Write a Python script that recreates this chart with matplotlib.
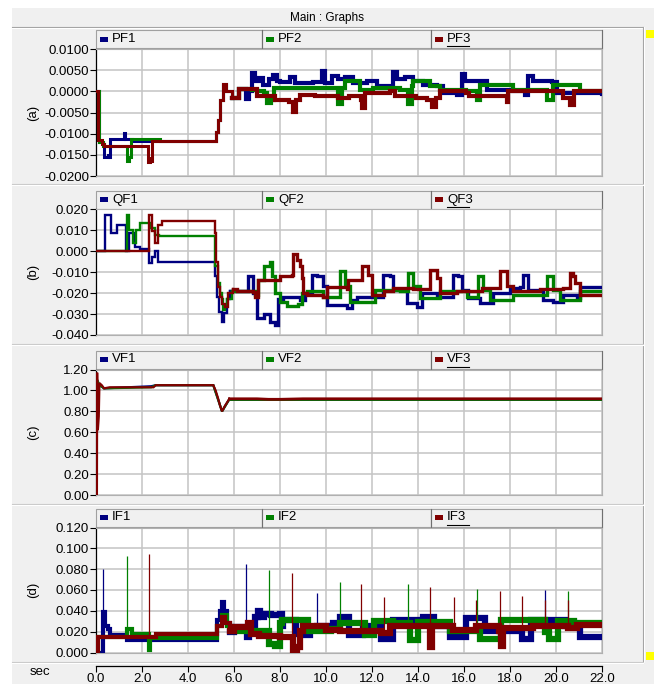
import matplotlib
matplotlib.use('Agg')
import matplotlib.pyplot as plt
import numpy as np
from matplotlib.patches import Rectangle

plt.rcParams['font.family'] = ['Liberation Sans', 'DejaVu Sans']

# time axis (sec)
t_ticks = np.arange(0, 22.1, 2.0)

# ---- panel (a) : PF1 / PF2 / PF3 ----
pf1 = [(0, 0), (0.08, 0), (0.12, -0.012), (0.3, -0.0125), (0.35, -0.0155), (0.5, -0.015),
       (0.55, -0.0155), (0.62, -0.0113), (1.15, -0.0112), (1.2, -0.0098), (1.25, -0.0112),
       (1.5, -0.0112), (1.55, -0.0118), (5.1, -0.0118), (5.2, -0.0095), (5.3, -0.0067),
       (5.4, -0.002), (5.5, 0.0017), (5.65, 0.0), (5.9, -0.0015), (6.2, 0.0005), (6.5, -0.0018),
       (6.65, 0.0), (6.8, 0.0043), (6.9, 0.0025), (7.1, 0.0032), (7.28, 0.0015), (7.5, 0.0028),
       (7.71, 0.0038), (7.85, 0.0024),
       (8.0, 0.0022), (8.43, 0.0033), (8.65, 0.002), (9.16, 0.002), (9.45, 0.0022), (9.81, 0.0048),
       (9.96, 0.002), (10.25, 0.0037), (10.54, 0.0029), (10.83, 0.0033), (11.19, 0.002),
       (11.77, 0.0025), (12.2, 0.0012), (12.78, 0.0012), (12.9, 0.0045), (13.07, 0.0029),
       (13.43, 0.0033), (13.8, 0.0025), (14.23, 0.0016), (14.81, 0.0012), (15.1, -0.0004),
       (15.68, -0.0008), (15.9, 0.0041), (16.04, 0.0025), (16.7, 0.0025), (16.99, 0.0004),
       (18.14, 0.0), (18.65, -0.0008), (18.8, 0.0037), (19.01, 0.0025), (19.81, 0.0022),
       (20.03, -0.0004), (22.0, -0.0006)]
pf2 = [(0, 0), (0.08, 0), (0.12, -0.012), (0.3, -0.013), (1.3, -0.013), (1.35, -0.0165),
       (1.45, -0.0155), (1.5, -0.0113), (2.7, -0.0113), (2.8, -0.0118), (5.1, -0.0118),
       (5.2, -0.0095), (5.3, -0.0067), (5.4, -0.002), (5.5, 0.0015), (5.65, 0.0), (5.9, -0.0015),
       (6.2, 0.0005), (6.8, 0.0002),
       (7.0, 0.0), (7.3, -0.0005), (7.45, -0.0028), (7.6, -0.002), (7.75, 0.0008), (8.0, 0.0008),
       (8.87, 0.0008), (9.74, 0.0008), (10.46, 0.0008), (10.54, -0.0029), (10.68, 0.0008),
       (10.83, 0.0025), (11.26, 0.0025), (11.48, 0.0004), (12.06, 0.0008), (12.78, 0.0008),
       (13.2, 0.0004), (13.58, -0.0029), (13.72, 0.0012), (13.8, 0.0025), (14.23, 0.0025),
       (14.52, 0.0012), (14.96, 0.0004), (16.1, 0.0), (16.55, -0.002), (16.7, 0.0016),
       (17.86, 0.0016), (18.14, 0.0004), (19.6, -0.002), (19.88, 0.0016), (20.9, 0.0016),
       (21.04, 0.0), (22.0, 0.0)]
pf3 = [(0, 0), (0.05, 0), (0.1, -0.0115), (0.25, -0.0125), (0.35, -0.013), (2.2, -0.013),
       (2.25, -0.0168), (2.35, -0.0158), (2.4, -0.0165), (2.45, -0.0117), (5.1, -0.0117),
       (5.2, -0.0095), (5.3, -0.0067), (5.4, -0.002), (5.5, 0.0017), (5.65, 0.0), (5.9, -0.0015),
       (6.2, 0.0005), (6.8, 0.0005),
       (7.0, -0.001), (7.5, -0.0012), (7.8, -0.002), (8.1, -0.002), (8.4, -0.0025), (8.58, -0.0048),
       (8.7, -0.002), (8.87, -0.0008), (9.5, -0.001), (10.0, -0.0012), (10.5, -0.0015),
       (11.0, -0.0012), (11.5, -0.002), (11.55, -0.004), (11.7, -0.0003), (12.8, 0.0),
       (13.0, -0.001), (13.9, -0.0015), (14.4, -0.002), (14.6, -0.0037), (14.8, -0.0015),
       (14.96, 0.0), (16.1, -0.0003), (16.2, -0.0012), (17.8, -0.001), (17.86, -0.0025),
       (17.9, 0.0), (20.0, 0.0), (20.3, -0.0015), (20.6, -0.0032), (20.8, 0.0), (22.0, 0.0)]

# ---- panel (b) : QF1 / QF2 / QF3 ----
qf1 = [(0, 0), (0.35, 0), (0.4, 0.0175), (0.64, 0.0087), (0.9, 0.0127), (1.28, 0.0125),
       (1.32, 0.0), (1.42, 0.009), (1.7, 0.0023), (1.9, 0.001), (2.25, 0.001), (2.3, -0.0057),
       (2.45, -0.0025), (2.55, 0.0), (2.7, -0.005), (5.1, -0.005), (5.18, -0.012), (5.25, -0.0216),
       (5.35, -0.029), (5.46, -0.034), (5.55, -0.0296), (5.68, -0.023), (5.83, -0.019),
       (6.55, -0.0192), (6.62, -0.012),
       (6.84, -0.02), (7.0, -0.032), (7.3, -0.030), (7.56, -0.034), (7.78, -0.035), (7.93, -0.023),
       (8.15, -0.022), (8.87, -0.0232), (9.09, -0.020), (9.38, -0.0112), (9.59, -0.0117),
       (9.88, -0.0168), (10.03, -0.0256), (10.9, -0.0272), (11.12, -0.0232), (11.33, -0.0216),
       (12.35, -0.0216), (12.49, -0.0112), (12.78, -0.0117), (12.93, -0.0184), (13.5, -0.0248),
       (13.94, -0.0264), (14.16, -0.020), (14.81, -0.0216), (15.46, -0.0216), (15.54, -0.0112),
       (15.75, -0.0117), (15.9, -0.0184), (16.19, -0.0224), (16.7, -0.0248), (17.28, -0.020),
       (18.0, -0.0176), (18.43, -0.0171), (18.58, -0.0112), (18.8, -0.0184), (19.45, -0.0232),
       (19.88, -0.024), (20.32, -0.0208), (20.9, -0.0224), (21.04, -0.0171), (22.0, -0.0171)]
qf2 = [(0, 0), (1.3, 0), (1.36, 0.0175), (1.45, 0.010), (1.59, 0.004), (1.75, 0.010),
       (1.9, 0.0135), (2.27, 0.0135), (2.4, 0.011), (2.56, 0.008), (2.75, 0.0072), (5.1, 0.0072),
       (5.17, -0.007), (5.3, -0.015), (5.4, -0.020), (5.46, -0.023), (5.5, -0.028), (5.6, -0.026),
       (5.68, -0.023), (5.9, -0.019),
       (6.6, -0.0192), (6.9, -0.021), (7.05, -0.0136), (7.3, -0.007), (7.55, -0.005),
       (7.65, -0.012), (7.8, -0.020), (8.0, -0.024), (8.3, -0.026), (8.8, -0.025), (8.95, -0.020),
       (9.16, -0.0192), (9.74, -0.0192), (9.88, -0.0216), (10.46, -0.0216), (10.6, -0.0096),
       (10.83, -0.0168), (11.04, -0.024), (11.91, -0.024), (12.13, -0.0184), (13.22, -0.0192),
       (13.58, -0.0104), (13.8, -0.0168), (14.09, -0.0224), (14.81, -0.0224), (14.96, -0.0192),
       (15.83, -0.0192), (16.12, -0.0216), (16.41, -0.0216), (16.62, -0.012), (16.84, -0.0184),
       (17.13, -0.0232), (18.0, -0.0232), (18.14, -0.0208), (19.45, -0.0208), (19.59, -0.012),
       (19.88, -0.0184), (20.17, -0.0232), (20.9, -0.0232), (21.04, -0.0192), (22.0, -0.0192)]
qf3 = [(0, 0), (2.27, 0), (2.3, 0.0175), (2.45, 0.0095), (2.55, 0.004), (2.7, 0.0127),
       (2.85, 0.0145), (5.1, 0.0145), (5.17, 0.0087), (5.23, -0.005), (5.3, -0.017),
       (5.38, -0.022), (5.46, -0.025), (5.6, -0.0265),
       (5.75, -0.020), (5.95, -0.018), (6.15, -0.0192), (6.84, -0.0195), (6.9, -0.0216),
       (7.05, -0.0136), (7.8, -0.0136), (8.0, -0.0117), (8.5, -0.0115), (8.58, -0.0015),
       (8.72, -0.004), (8.87, -0.007), (8.94, -0.0128), (9.01, -0.020), (9.16, -0.021),
       (9.6, -0.021), (9.88, -0.022), (10.03, -0.017), (10.75, -0.017), (10.9, -0.018),
       (10.97, -0.0137), (11.33, -0.0137), (11.55, -0.007), (11.7, -0.007), (11.84, -0.0112),
       (11.99, -0.021), (12.35, -0.021), (12.5, -0.0192), (12.78, -0.0192), (12.93, -0.0176),
       (13.5, -0.0176), (13.8, -0.018), (14.38, -0.018), (14.52, -0.009), (14.67, -0.009),
       (14.81, -0.0128), (14.96, -0.020), (15.54, -0.020), (15.68, -0.019), (16.7, -0.019),
       (16.8, -0.0176), (17.42, -0.0176), (17.57, -0.0096), (17.71, -0.0096), (17.86, -0.0168),
       (18.14, -0.019), (19.0, -0.019), (19.3, -0.018), (20.03, -0.018), (20.3, -0.0176),
       (20.55, -0.0176), (20.6, -0.0105), (20.75, -0.012), (20.83, -0.015), (21.04, -0.021),
       (22.0, -0.021)]

# ---- panel (c) : VF1 / VF2 / VF3 ----
vf1 = [(0, 0), (0.05, 1.1), (0.15, 1.05), (0.35, 1.02), (2.4, 1.04), (2.6, 1.05), (5.1, 1.05),
       (5.48, 0.8), (5.8, 0.917), (22.0, 0.917)]
vf2 = [(0, 0), (0.05, 1.1), (0.15, 1.05), (0.35, 1.02), (2.4, 1.03), (2.6, 1.05), (5.1, 1.05),
       (5.48, 0.8), (5.8, 0.917), (22.0, 0.917)]
vf3 = [(0, 0), (0.04, 0), (0.05, 1.17), (0.08, 0.62), (0.12, 0.75), (0.15, 1.07), (0.25, 1.05),
       (0.35, 1.02), (0.6, 1.03), (2.5, 1.03), (2.6, 1.05), (5.1, 1.05), (5.2, 1.0), (5.3, 0.93),
       (5.4, 0.85), (5.48, 0.8), (5.6, 0.85), (5.8, 0.92), (7.0, 0.92), (7.5, 0.915), (8.0, 0.915),
       (9.0, 0.92), (22.0, 0.92)]

# ---- panel (d) : IF1 / IF2 / IF3 ----
if1 = [(0, 0), (0.28, 0), (0.3, 0.039), (0.38, 0.025), (0.5, 0.023), (0.6, 0.017), (1.3, 0.017),
       (1.36, 0.012), (2.3, 0.012), (2.4, 0.015), (2.55, 0.012), (5.1, 0.012), (5.25, 0.031),
       (5.4, 0.04), (5.47, 0.0487), (5.55, 0.04), (5.68, 0.028), (5.83, 0.02), (6.0, 0.0246),
       (6.45, 0.0246), (6.55, 0.015), (6.65, 0.021), (6.84, 0.021), (6.9, 0.034), (7.05, 0.04),
       (7.15, 0.034), (7.3, 0.037), (7.6, 0.036), (8.0, 0.037), (8.07, 0.025), (8.15, 0.031),
       (8.45, 0.031), (8.7, 0.018), (9.0, 0.017), (9.3, 0.022), (9.6, 0.025), (10.0, 0.025),
       (10.3, 0.028), (10.6, 0.034), (10.9, 0.034), (11.0, 0.017), (11.5, 0.017), (11.6, 0.025),
       (12.0, 0.025), (12.4, 0.013), (12.6, 0.013), (12.9, 0.031), (14.0, 0.031), (14.2, 0.034),
       (14.4, 0.034), (14.7, 0.025), (15.0, 0.025), (15.4, 0.015), (16.0, 0.015), (16.1, 0.033),
       (16.7, 0.033), (16.9, 0.021), (17.6, 0.021), (18.5, 0.013), (18.7, 0.013), (18.9, 0.031),
       (19.9, 0.031), (20.4, 0.025), (21.05, 0.015), (22.0, 0.015)]
if2 = [(0, 0), (0.08, 0), (0.1, 0.015), (1.3, 0.015), (1.36, 0.023), (1.5, 0.023), (1.55, 0.018),
       (2.25, 0.018), (2.3, 0.002), (2.35, 0.0135), (5.1, 0.0135), (5.25, 0.025), (5.47, 0.036),
       (5.68, 0.025), (5.9, 0.021), (7.4, 0.021), (7.5, 0.008), (7.8, 0.006), (8.0, 0.028),
       (8.1, 0.031), (8.9, 0.031), (9.2, 0.021), (9.9, 0.021), (10.2, 0.023), (10.6, 0.028),
       (11.5, 0.028), (11.7, 0.017), (11.9, 0.017), (12.1, 0.03), (12.9, 0.028), (13.5, 0.028),
       (13.65, 0.012), (13.8, 0.012), (14.0, 0.029), (15.0, 0.029), (15.4, 0.021), (16.6, 0.021),
       (16.7, 0.013), (16.95, 0.013), (17.6, 0.031), (18.4, 0.031), (19.5, 0.02), (19.7, 0.013),
       (19.9, 0.013), (20.1, 0.03), (20.6, 0.03), (20.8, 0.028), (22.0, 0.028)]
if3 = [(0, 0), (0.08, 0), (0.1, 0.015), (2.27, 0.015), (2.4, 0.015), (2.6, 0.018), (5.1, 0.018),
       (5.25, 0.025), (5.47, 0.034), (5.6, 0.028), (5.83, 0.021), (6.0, 0.0246), (6.5, 0.0246),
       (6.6, 0.028), (6.75, 0.018), (7.0, 0.018), (7.1, 0.016), (7.8, 0.016), (8.0, 0.015),
       (8.5, 0.015), (8.58, 0.002), (8.75, 0.005), (8.85, 0.021), (9.0, 0.025), (10.0, 0.022),
       (10.6, 0.021), (11.5, 0.021), (12.4, 0.019), (12.8, 0.025), (14.4, 0.025), (14.5, 0.005),
       (14.6, 0.025), (15.5, 0.022), (16.5, 0.025), (17.5, 0.021), (17.6, 0.006), (17.7, 0.024),
       (19.0, 0.025), (20.5, 0.024), (20.9, 0.026), (22.0, 0.026)]
# narrow current spikes (time, peak)
if1_spikes = [(0.29, 0.080), (6.5, 0.085), (9.6, 0.057), (19.5, 0.060)]
if2_spikes = [(1.33, 0.093), (7.5, 0.079), (10.6, 0.068), (13.58, 0.066), (16.55, 0.061),
              (20.54, 0.059)]
if3_spikes = [(2.3, 0.095), (8.5, 0.076), (11.5, 0.066), (12.5, 0.053), (14.5, 0.063),
              (15.57, 0.053), (16.5, 0.050), (17.57, 0.059), (18.54, 0.054), (19.5, 0.050),
              (20.54, 0.050)]

# label, names, series, spikes, yticks, fmt, top px, bottom px, lw before/after 5.8 s, drawstyle
panels = [
    ('(a)', ['PF1', 'PF2', 'PF3'], [pf1, pf2, pf3], None,
     [0.0100, 0.0050, 0.0000, -0.0050, -0.0100, -0.0150, -0.0200], '%.4f', 49, 176,
     (2.2, 3.0), 'steps-post'),
    ('(b)', ['QF1', 'QF2', 'QF3'], [qf1, qf2, qf3], None,
     [0.020, 0.010, 0.000, -0.010, -0.020, -0.030, -0.040], '%.3f', 209.5, 335,
     (1.7, 2.4), 'steps-post'),
    ('(c)', ['VF1', 'VF2', 'VF3'], [vf1, vf2, vf3], None,
     [1.20, 1.00, 0.80, 0.60, 0.40, 0.20, 0.00], '%.2f', 369.5, 495,
     (1.6, 2.0), 'default'),
    ('(d)', ['IF1', 'IF2', 'IF3'], [if1, if2, if3], [if1_spikes, if2_spikes, if3_spikes],
     [0.120, 0.100, 0.080, 0.060, 0.040, 0.020, 0.000], '%.3f', 527.5, 652.5,
     (3.0, 4.5), 'steps-post'),
]
colors = ['#000080', '#008000', '#800000']
T_SPLIT = 5.8

W, H = 654, 684
X0, X1 = 96, 602
GRAY = '#f0f0f0'
FS = 9.5

fig = plt.figure(figsize=(W / 100, H / 100), dpi=100)


def rect(x0, y0, x1, y1):
    return [x0 / W, 1 - y1 / H, (x1 - x0) / W, (y1 - y0) / H]


# background frame drawn in pixel coordinates
bg = fig.add_axes([0, 0, 1, 1], zorder=-10)
bg.set_xlim(0, W)
bg.set_ylim(H, 0)
bg.axis('off')
bg.add_patch(Rectangle((12, 8), W - 12, H - 8, color=GRAY, lw=0))
bg.plot([12, 643], [27, 27], color='#a0a0a0', lw=0.8)
bg.plot([12, 643], [28, 28], color='white', lw=0.8)
bg.text(327, 17.5, 'Main : Graphs', ha='center', va='center', fontsize=8.5)
bg.plot([643, 643], [27, 662], color='#a0a0a0', lw=0.8)
bg.plot([644, 644], [27, 662], color='white', lw=0.8)
bg.add_patch(Rectangle((646, 30), 8, 8, color='#ffff00', lw=0))
bg.add_patch(Rectangle((646, 652), 8, 8, color='#ffff00', lw=0))
for ys in [184, 344, 504, 662]:
    bg.plot([12, 643], [ys, ys], color='#c8c8c8', lw=0.8)
    bg.plot([12, 643], [ys + 1.2, ys + 1.2], color='white', lw=0.8)

cells = [(96, 262), (262, 431), (431, 602)]

for label, names, series, spikes, yticks, fmt, ytop, ybot, lws, dstyle in panels:
    # legend row
    for k, (cx0, cx1) in enumerate(cells):
        bg.add_patch(Rectangle((cx0, ytop - 19), cx1 - cx0, 18, facecolor=GRAY,
                               edgecolor='#a0a0a0', lw=0.8))
        bg.plot([cx1 - 0.5, cx1 - 0.5], [ytop - 19, ytop - 1], color='#707070', lw=0.8)
        bg.add_patch(Rectangle((cx0 + 4, ytop - 12.5), 8, 5, color=colors[k], lw=0))
        bg.text(cx0 + 16, ytop - 10, names[k], ha='left', va='center', fontsize=FS)
        if k == 2:
            bg.plot([cx0 + 16, cx0 + 38], [ytop - 3, ytop - 3], color='black', lw=0.8)
    bg.text(33, (ytop + ybot) / 2, label, rotation=90, ha='center', va='center', fontsize=FS)

    ax = fig.add_axes(rect(X0, ytop, X1, ybot))
    ax.set_facecolor('white')
    for k, s in enumerate(series):
        arr = np.array(s).T
        i = int(np.searchsorted(arr[0], T_SPLIT))
        ax.plot(arr[0][:i + 1], arr[1][:i + 1], color=colors[k], lw=lws[0], drawstyle=dstyle,
                solid_joinstyle='miter', zorder=3 + k)
        ax.plot(arr[0][i:], arr[1][i:], color=colors[k], lw=lws[1], drawstyle=dstyle,
                solid_joinstyle='miter', zorder=3 + k)
    if spikes is not None:
        for k, sp in enumerate(spikes):
            arr = np.array(sp).T
            base = np.interp(arr[0], np.array(series[k]).T[0], np.array(series[k]).T[1])
            ax.vlines(arr[0], base, arr[1], color=colors[k], lw=0.9, zorder=3 + k)
    ax.set_xlim(0, 22)
    ax.set_ylim(yticks[-1], yticks[0])
    ax.set_xticks(t_ticks)
    ax.set_yticks(yticks)
    ax.set_yticklabels([fmt % v for v in yticks])
    ax.tick_params(axis='x', length=0, labelbottom=False)
    ax.tick_params(axis='y', length=4, width=0.8, pad=1, labelsize=FS, colors='black')
    ax.grid(color='#c4c4c4', lw=1.1)
    ax.set_axisbelow(True)
    for side in ['top', 'right', 'bottom']:
        ax.spines[side].set_color('#b0b0b0')
    ax.spines['left'].set_color('black')
    ax.spines['left'].set_linewidth(0.9)

# bottom time axis
tax = fig.add_axes(rect(X0, 665.5, X1, 665.6))
tax.set_xlim(0, 22)
tax.set_yticks([])
tax.patch.set_alpha(0)
for side in ['top', 'right', 'left']:
    tax.spines[side].set_visible(False)
tax.spines['bottom'].set_linewidth(0.9)
tax.set_xticks(t_ticks)
tax.set_xticklabels(['%.1f' % v for v in t_ticks])
tax.tick_params(axis='x', length=4, width=0.8, pad=1, labelsize=FS)
bg.text(40, 672, 'sec', ha='center', va='center', fontsize=FS)

fig.savefig('out.png', dpi=100)
